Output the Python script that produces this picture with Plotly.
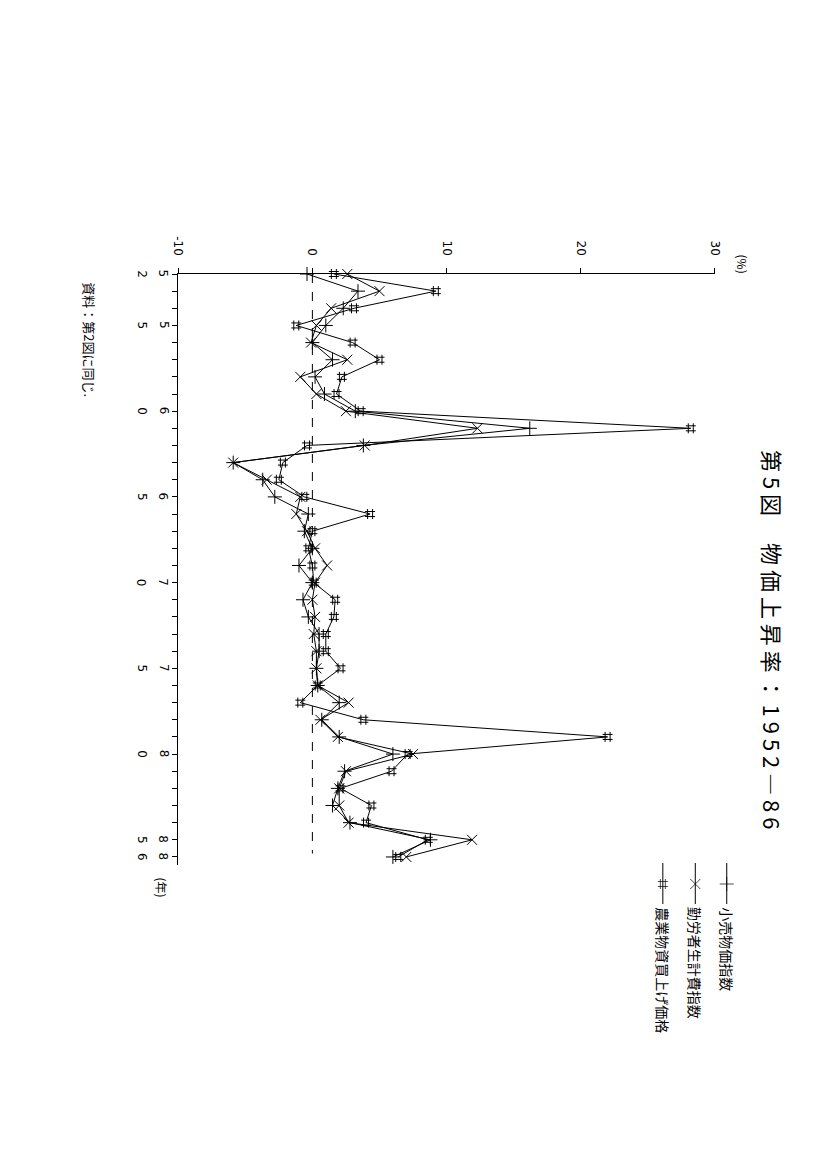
import plotly.graph_objects as go

# ---------------- data ----------------
years = list(range(1952, 1987))

retail = [-0.4, 3.4, 2.3, 1.0, 0.0, 1.5, 0.2, 0.9, 3.2, 16.2,
          3.8, -5.9, -3.7, -2.8, -0.3, -0.6, 0.0, -1.0, 0.0, -0.7,
          -0.3, 0.5, 0.5, 0.3, 0.4, 2.0, 0.7, 2.0, 6.0, 2.4,
          1.9, 1.5, 2.8, 8.8, 6.0]

workers = [2.6, 5.0, 1.4, 0.3, -0.1, 2.6, -0.9, 0.3, 2.5, 12.3,
           3.9, -5.9, -3.4, -0.9, -1.2, -0.4, 0.2, 1.1, 0.2, 0.0,
           0.2, 0.1, 0.3, 0.3, 0.4, 2.7, 0.6, 1.9, 7.5, 2.5,
           2.0, 2.0, 2.7, 11.9, 7.0]

farm = [1.6, 9.2, 3.1, -1.2, 3.0, 5.0, 2.2, 1.8, 3.6, 28.2,
        -0.4, -2.2, -2.5, -0.6, 4.3, 0.0, -0.3, 0.0, 0.1, 1.7,
        1.6, 1.0, 1.0, 2.1, 0.4, -0.9, 3.8, 22.0, 7.1, 5.9,
        2.1, 4.4, 4.0, 8.6, 6.4]

series_names = ["小売物価指数", "勤労者生計費指数", "農業物資買上げ価格"]
series_symbols = ["cross-thin-open", "x-thin-open", "hash-open"]

value_ticks = [-10, 0, 10, 20, 30]
value_ticktext = ["-10", "0", "10", "20", "30"]

label_years = [1952, 1955, 1960, 1965, 1970, 1975, 1980, 1985, 1986]
year_labels = ["52", "55", "60", "65", "70", "75", "80", "85", "86"]

title_text = "第 5 図　 物 価 上 昇 率 ： 1 9 5 2 ― 8 6"
source_text = "資料：第2図に同じ."

# ---------------- geometry helpers ----------------
W, H = 827, 1170


def px(x):
    return x / W


def py(y):
    return 1 - y / H


FONT = "Noto Sans CJK JP, DejaVu Sans, sans-serif"

fig = go.Figure()

for vals, name, sym in zip([retail, workers, farm], series_names, series_symbols):
    fig.add_trace(go.Scatter(
        x=vals, y=years, mode="lines+markers", name=name,
        line=dict(color="black", width=1),
        marker=dict(symbol=sym, size=10, color="black",
                    line=dict(color="black", width=1)),
        cliponaxis=False, showlegend=False,
    ))

# legend keys (rotated legend drawn on a pixel overlay axis)
legend_x = [724, 692, 659]
for lx, name, sym in zip(legend_x, series_names, series_symbols):
    fig.add_trace(go.Scatter(
        x=[lx, lx, lx], y=[855, 876, 896], xaxis="x2", yaxis="y2",
        mode="lines+markers",
        line=dict(color="black", width=1),
        marker=dict(symbol=sym, size=[0, 10, 0], color="black",
                    line=dict(color="black", width=1)),
        showlegend=False, hoverinfo="skip",
    ))

annotations = []
for lx, name in zip(legend_x, series_names):
    annotations.append(dict(
        x=px(lx), y=py(897), xref="paper", yref="paper",
        text=name, textangle=90, showarrow=False,
        xanchor="center", yanchor="top",
        font=dict(family=FONT, size=14, color="black"),
    ))

# year labels (digits stacked, rotated)
for yr, lab in zip(label_years, year_labels):
    annotations.append(dict(
        x=px(151), y=yr, xref="paper", yref="y", text=lab[0],
        textangle=90, showarrow=False, xanchor="center", yanchor="middle",
        font=dict(family="DejaVu Sans", size=12, color="black"),
    ))
    annotations.append(dict(
        x=px(129), y=yr, xref="paper", yref="y", text=lab[1],
        textangle=90, showarrow=False, xanchor="center", yanchor="middle",
        font=dict(family="DejaVu Sans", size=12, color="black"),
    ))

# title
annotations.append(dict(
    x=px(771), y=py(632), xref="paper", yref="paper", text=title_text,
    textangle=90, showarrow=False, xanchor="center", yanchor="middle",
    font=dict(family=FONT, size=22, color="black"),
))
# source note
annotations.append(dict(
    x=px(76), y=py(332), xref="paper", yref="paper", text=source_text,
    textangle=90, showarrow=False, xanchor="center", yanchor="middle",
    font=dict(family=FONT, size=13, color="black"),
))
# unit labels
annotations.append(dict(
    x=px(741), y=py(256), xref="paper", yref="paper", text="(%)",
    textangle=90, showarrow=False, xanchor="center", yanchor="middle",
    font=dict(family=FONT, size=12, color="black"),
))
annotations.append(dict(
    x=px(150), y=py(880), xref="paper", yref="paper", text="(年)",
    textangle=90, showarrow=False, xanchor="center", yanchor="middle",
    font=dict(family=FONT, size=12, color="black"),
))

shapes = [dict(
    type="line", xref="x", yref="y", x0=0, x1=0,
    y0=years[0], y1=years[-1] - 0.2,
    line=dict(color="black", width=1, dash="dash"),
)]

fig.update_layout(
    width=W, height=H,
    margin=dict(l=0, r=0, t=0, b=0),
    paper_bgcolor="white", plot_bgcolor="rgba(0,0,0,0)",
    showlegend=False,
    xaxis=dict(
        domain=[px(166), px(712)], range=[-10, 30], side="top",
        anchor="y", showline=True, linecolor="black", linewidth=1,
        ticks="outside", ticklen=5, tickcolor="black", tickwidth=1,
        tickvals=value_ticks, ticktext=value_ticktext, tickangle=90,
        ticklabelstandoff=8,
        tickfont=dict(family="DejaVu Sans", size=12, color="black"),
        showgrid=False, zeroline=False, fixedrange=True,
    ),
    yaxis=dict(
        domain=[py(857), py(266)], range=[1986.47, 1952],
        anchor="x", showline=True, linecolor="black", linewidth=1,
        ticks="outside", ticklen=5, tickcolor="black", tickwidth=1,
        tickvals=years, showticklabels=False,
        showgrid=False, zeroline=False, fixedrange=True,
    ),
    xaxis2=dict(domain=[0, 1], range=[0, W], visible=False, anchor="y2",
                fixedrange=True),
    yaxis2=dict(domain=[0, 1], range=[H, 0], visible=False, anchor="x2",
                fixedrange=True),
    annotations=annotations,
    shapes=shapes,
)

fig.write_html("out.html")
